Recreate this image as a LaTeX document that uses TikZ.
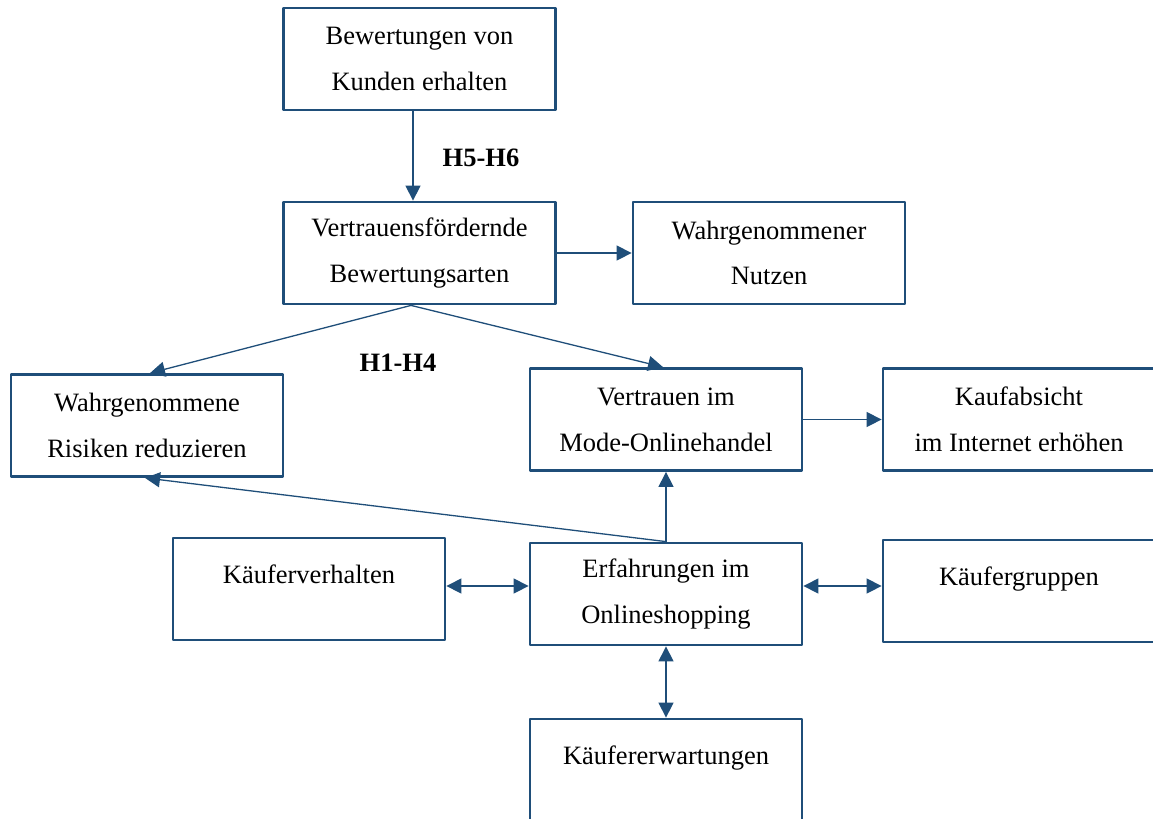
\documentclass[tikz,border=0pt]{standalone}
\usepackage{fontspec}
\setmainfont{Liberation Serif}
\usepackage{tikz}
\usetikzlibrary{arrows.meta,positioning,calc}
\definecolor{boxcol}{RGB}{31,78,121}

\begin{document}
\begin{tikzpicture}[x=0.5bp,y=-0.5bp,>={Triangle[length=7.5bp,width=7.5bp]},line join=bevel,
  modelbox/.style={draw=boxcol,line width=1.4bp,minimum width=136bp,minimum height=51bp,
    inner sep=0pt,align=center,font=\fontsize{13.3}{23}\selectfont},
  link/.style={draw=boxcol,line width=0.65bp},
  hyplabel/.style={font=\fontsize{13.3}{16}\selectfont\bfseries}]
\useasboundingbox (0,0) rectangle (1153,818);
 % boxes
 \node[modelbox] (kunden) at (419.5,59) {Bewertungen von\\Kunden erhalten};
 \node[modelbox] (arten) at (419.5,253) {Vertrauensfördernde\\Bewertungsarten};
 \node[modelbox] (nutzen) at (769,253) {Wahrgenommener\\Nutzen};
 \node[modelbox] (risiken) at (147,425.5) {Wahrgenommene\\Risiken reduzieren};
 \node[modelbox] (vertrauen) at (666,419.5) {Vertrauen im\\Mode-Onlinehandel};
 \node[modelbox] (kaufabsicht) at (1019,419.5) {Kaufabsicht\\im Internet erhöhen};
 \node[modelbox] (verhalten) at (309,589) {Käuferverhalten\\[-8bp]\mbox{}};
 \node[modelbox] (erfahrung) at (666,594) {Erfahrungen im\\Onlineshopping};
 \node[modelbox] (gruppen) at (1019,591) {Käufergruppen\\[-8bp]\mbox{}};
 \node[modelbox] (erwartung) at (666,770) {Käufererwartungen\\[-8bp]\mbox{}};
 % labels
 \node[hyplabel] (hfive) at (481,158) {H5-H6};
 \node[hyplabel] (hone) at (398,363) {H1-H4};
 % connectors
 \draw[link,->] ([xshift=-3.25bp]kunden.south) -- ([xshift=-3.25bp]arten.north);
 \draw[link,->] (arten.east) -- (nutzen.west);
 \draw[link,->] ([xshift=-4.25bp]arten.south) -- ([xshift=1.5bp]risiken.north);
 \draw[link,->] ([xshift=-4.25bp]arten.south) -- ([xshift=-1.5bp]vertrauen.north);
 \draw[link,->] (vertrauen.east) -- (kaufabsicht.west);
 \draw[link,->] (erfahrung.north) -- (vertrauen.south);
 \draw[link,->] (erfahrung.north) -- ([xshift=-1bp]risiken.south);
 \draw[link,<->] ([yshift=4bp]erfahrung.west -| verhalten.east) -- ([yshift=4bp]erfahrung.west);
 \draw[link,<->] ([yshift=4bp]erfahrung.east) -- ([yshift=4bp]erfahrung.east -| gruppen.west);
 \draw[link,<->] (erfahrung.south) -- (erwartung.north);
\end{tikzpicture}
\end{document}
